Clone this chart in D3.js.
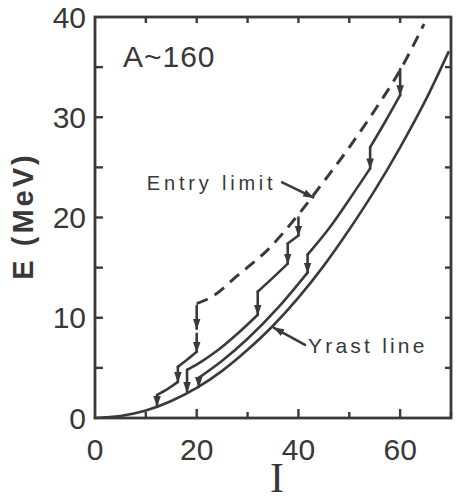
<!DOCTYPE html>
<html>
<head>
<meta charset="utf-8">
<style>
  body { margin: 0; background: #fff; }
  text { font-family: "Liberation Sans", Arial, sans-serif; fill: #383838; }
  .curve { fill: none; stroke: #3a3a3a; stroke-width: 2.6; stroke-linecap: round; }
  .entry { fill: none; stroke: #3a3a3a; stroke-width: 3; stroke-dasharray: 12 8; }
  .frame { fill: none; stroke: #3a3a3a; stroke-width: 2.8; }
  .tick { stroke: #3a3a3a; stroke-width: 2.4; }
</style>
</head>
<body>
<svg id="chart"></svg>
<script src="https://d3js.org/d3.v7.min.js"></script>
<script>
// yrast line (I, E in MeV)
var yrastI = [0, 5, 10, 15, 20, 25, 30, 35, 40, 45, 50, 55, 60, 65, 69.5];
var yrastE = [0, 0.2, 0.75, 1.7, 3.0, 4.7, 6.8, 9.2, 12.0, 15.2, 18.8, 22.7, 27.0, 31.7, 36.5];

// entry limit (dashed)
var entryI = [20, 23, 28, 33.8, 40, 45, 50, 55, 60, 64.7];
var entryE = [11.4, 12.1, 14.2, 16.7, 20.3, 23.6, 27.0, 30.7, 34.7, 39.3];

// cascade segments running parallel to the yrast line
var cascadeSegments = [
  // entry at I=60
  [[54.1, 27.0], [57, 29.5], [60, 32.2]],
  [[41.8, 16.3], [46, 18.9], [50, 21.8], [54.1, 24.9]],
  [[20.4, 4.0], [25, 5.7], [30, 7.9], [36, 11.0], [41.8, 14.5]],
  // entry at I=40
  [[37.9, 17.4], [40, 18.2]],
  [[32.0, 12.6], [35, 14.0], [37.9, 15.4]],
  [[18.1, 4.8], [21, 5.65], [24, 6.7], [28, 8.4], [32.0, 10.3]],
  // entry at I=20
  [[16.3, 5.1], [18.2, 5.85], [20, 6.6]],
  [[12.2, 2.3], [14.3, 2.9], [16.3, 3.6]]
];

// vertical gamma drops: [I, E from, E to]
var drops = [
  [60, 34.8, 32.2], [54.1, 27.0, 24.9], [41.8, 16.3, 14.5], [20.4, 4.0, 3.1],
  [40, 20.0, 18.2], [37.9, 17.4, 15.4], [32.0, 12.6, 10.3], [18.1, 4.8, 2.6],
  [20, 11.2, 8.9], [20, 8.4, 6.6], [16.3, 5.1, 3.6], [12.2, 2.3, 1.2]
];

var xTicks = [0, 20, 40, 60];
var yTicks = [0, 10, 20, 30, 40];

var W = 458, H = 502;
var svg = d3.select("#chart").attr("width", W).attr("height", H);

var x = d3.scaleLinear().domain([0, 70]).range([95, 451]);
var y = d3.scaleLinear().domain([0, 40]).range([418, 17]);

var defs = svg.append("defs");
defs.append("marker")
  .attr("id", "head")
  .attr("markerUnits", "userSpaceOnUse")
  .attr("viewBox", "0 -4 11 8")
  .attr("refX", 10).attr("refY", 0)
  .attr("markerWidth", 11).attr("markerHeight", 8)
  .attr("orient", "auto")
  .append("path")
  .attr("d", "M0,-3.8L11,0L0,3.8Z")
  .attr("fill", "#3a3a3a");

// frame
svg.append("rect").attr("class", "frame")
  .attr("x", x(0)).attr("y", y(40))
  .attr("width", x(70) - x(0)).attr("height", y(0) - y(40));

// inward ticks
var g = svg.append("g");
d3.range(5, 40, 5).forEach(function(v) {
  g.append("line").attr("class", "tick")
    .attr("x1", x(0)).attr("x2", x(0) + 8).attr("y1", y(v)).attr("y2", y(v));
  g.append("line").attr("class", "tick")
    .attr("x1", x(70)).attr("x2", x(70) - 6).attr("y1", y(v)).attr("y2", y(v));
});
d3.range(10, 71, 10).forEach(function(v) {
  var len = (v % 20 === 0) ? 9 : 6;
  g.append("line").attr("class", "tick")
    .attr("x1", x(v)).attr("x2", x(v)).attr("y1", y(0)).attr("y2", y(0) - len);
  if (v < 70) g.append("line").attr("class", "tick")
    .attr("x1", x(v)).attr("x2", x(v)).attr("y1", y(40)).attr("y2", y(40) + 6);
});

// tick labels
svg.selectAll(".xl").data(xTicks).enter().append("text")
  .attr("x", function(d) { return x(d); }).attr("y", 460)
  .attr("text-anchor", "middle").attr("font-size", 30)
  .text(function(d) { return d; });
svg.selectAll(".yl").data(yTicks).enter().append("text")
  .attr("x", 86).attr("y", function(d) { return y(d) + 10.5; })
  .attr("text-anchor", "end").attr("font-size", 30)
  .text(function(d) { return d; });

// axis titles
svg.append("text")
  .attr("transform", "translate(33,216) rotate(-90)")
  .attr("text-anchor", "middle").attr("font-size", 29).attr("font-weight", "bold")
  .attr("letter-spacing", 3)
  .text("E (MeV)");
svg.append("text")
  .attr("x", 277).attr("y", 492)
  .attr("text-anchor", "middle").attr("font-size", 42)
  .style("font-family", "'Liberation Serif', serif")
  .text("I");

var line = d3.line()
  .x(function(d) { return x(d[0]); })
  .y(function(d) { return y(d[1]); })
  .curve(d3.curveMonotoneX);

svg.append("path").attr("class", "curve")
  .attr("d", line(yrastI.map(function(v, i) { return [v, yrastE[i]]; })));

svg.append("path").attr("class", "entry")
  .attr("d", line(entryI.map(function(v, i) { return [v, entryE[i]]; })));

svg.selectAll(".seg").data(cascadeSegments).enter().append("path")
  .attr("class", "curve")
  .attr("d", function(d) { return line(d); });

svg.selectAll(".drop").data(drops).enter().append("line")
  .attr("class", "curve")
  .attr("x1", function(d) { return x(d[0]); })
  .attr("x2", function(d) { return x(d[0]); })
  .attr("y1", function(d) { return y(d[1]); })
  .attr("y2", function(d) { return y(d[2]); })
  .attr("marker-end", "url(#head)");

// labels
svg.append("text").attr("x", x(5.5)).attr("y", y(35))
  .attr("font-size", 30).attr("letter-spacing", 1).text("A~160");

svg.append("text").attr("x", x(10.2)).attr("y", y(22.7))
  .attr("font-size", 20).attr("letter-spacing", 3.8).text("Entry limit");
svg.append("line").attr("class", "curve")
  .attr("x1", x(36.8)).attr("y1", y(23.5))
  .attr("x2", x(42.9)).attr("y2", y(22.0))
  .attr("marker-end", "url(#head)");

svg.append("text").attr("x", x(41.9)).attr("y", y(6.5))
  .attr("font-size", 21).attr("letter-spacing", 3.2).text("Yrast line");
svg.append("line").attr("class", "curve")
  .attr("x1", x(41.3)).attr("y1", y(7.3))
  .attr("x2", x(35.2)).attr("y2", y(9.0))
  .attr("marker-end", "url(#head)");
</script>
</body>
</html>
